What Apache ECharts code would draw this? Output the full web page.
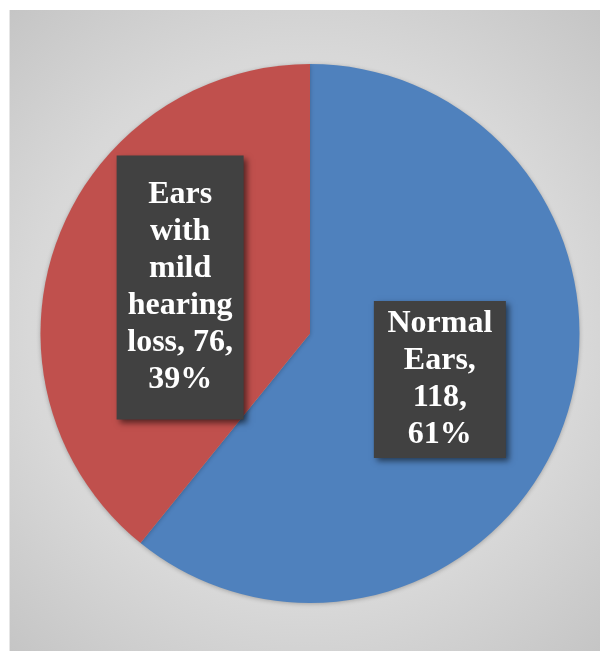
<!DOCTYPE html>
<html>
<head>
<meta charset="utf-8">
<script src="https://cdn.jsdelivr.net/npm/echarts@6/dist/echarts.min.js"></script>
<style>
html,body{margin:0;padding:0;background:#fff;}
#wrap{position:absolute;left:9px;top:10px;width:591px;height:641px;border-left:1px solid #e6e6e6;box-sizing:border-box;}
#chart{width:100%;height:100%;}
</style>
</head>
<body>
<div id="wrap"><div id="chart"></div></div>
<script>
const categories = ['Normal Ears', 'Ears with mild hearing loss'];
const values = [118, 76];
const colors = ['#4F81BD', '#C0504D'];

const FONT = 'Liberation Serif, Times New Roman, serif';
const FS = 32;
const WRAP_W = 110;
const paddings = [[7.5, 11, 1.5, 11], [25, 8.5, 17, 8.5]];

const measurer = document.createElement('canvas').getContext('2d');
measurer.font = 'bold ' + FS + 'px ' + FONT;
function wrap(text) {
  const words = text.split(' ');
  const lines = [];
  let cur = '';
  words.forEach(w => {
    const t = cur ? cur + ' ' + w : w;
    if (cur && measurer.measureText(t).width > WRAP_W) {
      lines.push(cur);
      cur = w;
    } else {
      cur = t;
    }
  });
  if (cur) lines.push(cur);
  return lines.join('\n');
}

const chart = echarts.init(document.getElementById('chart'), null, {renderer: 'canvas'});
chart.setOption({
  backgroundColor: {
    type: 'radial', x: 0.5, y: 0.5, r: 0.78,
    colorStops: [
      {offset: 0, color: '#e6e6e6'},
      {offset: 0.6, color: '#d8d8d8'},
      {offset: 1, color: '#c2c2c2'}
    ]
  },
  animation: false,
  series: [{
    type: 'pie',
    center: [300, 323.5],
    radius: [0, 269.5],
    startAngle: 90,
    clockwise: true,
    percentPrecision: 0,
    itemStyle: {
      shadowBlur: 4,
      shadowColor: 'rgba(0,0,0,0.25)',
      shadowOffsetY: 1
    },
    labelLine: {show: false},
    data: categories.map((name, i) => ({
      name: name,
      value: values[i],
      itemStyle: {color: colors[i]},
      label: {padding: paddings[i]}
    })),
    label: {
      show: true,
      position: 'inside',
      formatter: p => wrap(p.name + ', ' + p.value + ', ' + p.percent + '%'),
      width: WRAP_W,
      align: 'center',
      verticalAlign: 'middle',
      fontFamily: FONT,
      fontWeight: 'bold',
      fontSize: FS,
      lineHeight: 37,
      color: '#ffffff',
      backgroundColor: '#414141',
      shadowBlur: 6,
      shadowColor: 'rgba(0,0,0,0.55)',
      shadowOffsetX: 3,
      shadowOffsetY: 3
    }
  }]
});
</script>
</body>
</html>
